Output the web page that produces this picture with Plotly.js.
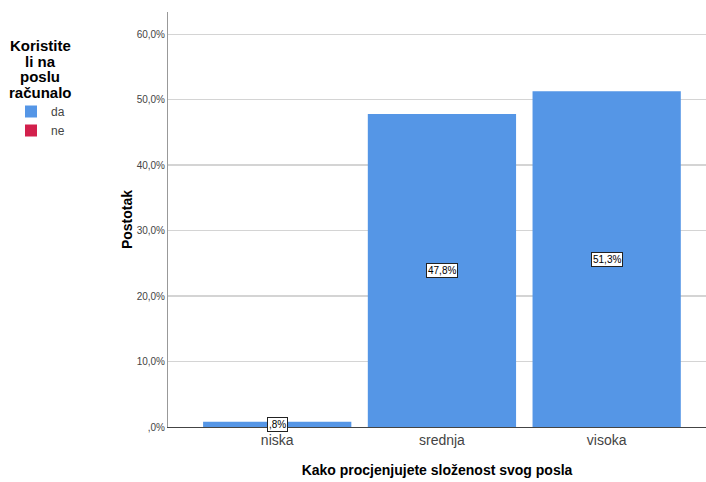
<!DOCTYPE html>
<html>
<head>
<meta charset="utf-8">
<script src="https://cdn.plot.ly/plotly-3.0.1.min.js"></script>
<style>body{margin:0;padding:0;background:#fff}#chart{width:706px;height:482px}</style>
</head>
<body>
<div id="chart"></div>
<script>
const categories = ["niska", "srednja", "visoka"];
const daValues = [0.8, 47.8, 51.3];
const neValues = [null, null, null];
const barLabels = [",8%", "47,8%", "51,3%"];
const yTickVals = [0, 10, 20, 30, 40, 50, 60];
const yTickText = [",0%", "10,0%", "20,0%", "30,0%", "40,0%", "50,0%", "60,0%"];
const legendTitleLines = ["Koristite", "li na", "poslu", "računalo"];

const traces = [
  {type: "bar", name: "da", x: categories, y: daValues, width: 0.9,
   marker: {color: "#5596E6", line: {width: 0}}, hoverinfo: "skip"},
  {type: "bar", name: "ne", x: categories, y: neValues, width: 0.9,
   marker: {color: "#D2204C", line: {width: 0}}, hoverinfo: "skip"}
];

const annotations = categories.map((c, i) => ({
  x: c, y: daValues[i] / 2, xref: "x", yref: "y", text: barLabels[i], showarrow: false,
  font: {family: "Arial", size: 10, color: "#000"},
  bgcolor: "#fff", bordercolor: "#222", borderwidth: 1, borderpad: 1
}));
const titleCenters = [45.5, 61.5, 77, 92.5];
legendTitleLines.forEach((t, i) => {
  annotations.push({
    x: (40 - 168) / 538, y: (427 - titleCenters[i]) / 415, xref: "paper", yref: "paper",
    xanchor: "center", yanchor: "middle",
    text: t, showarrow: false, align: "center",
    font: {family: "Arial", size: 15, color: "#000", weight: "bold"}
  });
});

const layout = {
  width: 706, height: 482,
  margin: {l: 168, r: 0, t: 12, b: 55},
  paper_bgcolor: "#fff", plot_bgcolor: "#fff",
  barmode: "overlay",
  showlegend: true,
  legend: {
    x: 11 / 706, xref: "container", xanchor: "left",
    y: 1 - 97 / 482, yref: "container", yanchor: "top",
    font: {family: "Arial", size: 12, color: "#444"},
    tracegroupgap: 0, itemwidth: 30, bgcolor: "rgba(0,0,0,0)", borderwidth: 0
  },
  xaxis: {
    type: "category", range: [-0.663, 2.603],
    showgrid: false, showline: true, linecolor: "#444", linewidth: 1,
    ticks: "", tickfont: {family: "Arial", size: 14, color: "#444"},
    title: {text: "Kako procjenjujete složenost svog posla", standoff: 18,
            font: {family: "Arial", size: 14, color: "#000", weight: "bold"}},
    zeroline: false, fixedrange: true
  },
  yaxis: {
    range: [0, 63.4],
    tickvals: yTickVals, ticktext: yTickText,
    tickfont: {family: "Arial", size: 10, color: "#444"},
    showgrid: true, gridcolor: "#d4d4d4", gridwidth: 1.5,
    showline: true, linecolor: "#999", linewidth: 1,
    ticks: "", ticklen: 0, zeroline: false,
    title: {text: "Postotak", standoff: 0,
            font: {family: "Arial", size: 14, color: "#000", weight: "bold"}},
    fixedrange: true
  },
  annotations: annotations
};

Plotly.newPlot("chart", traces, layout, {displayModeBar: false, staticPlot: true});
</script>
</body>
</html>
